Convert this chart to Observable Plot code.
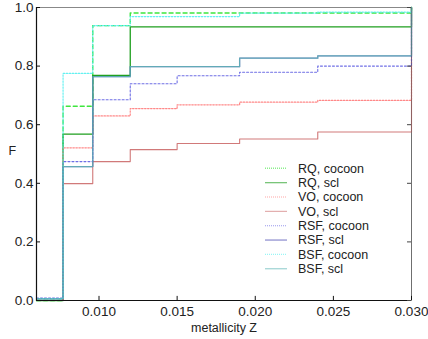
<!DOCTYPE html>
<html><head><meta charset="utf-8">
<script src="https://cdn.jsdelivr.net/npm/d3@7"></script>
<script src="https://cdn.jsdelivr.net/npm/@observablehq/plot@0.6"></script>
<style>
html,body{margin:0;padding:0;background:#fff;}
</style>
</head><body>
<div id="chart"></div>
<script>
// metallicity grid (step edges)
const zGrid = [0.006, 0.0077, 0.0096, 0.012, 0.015, 0.019, 0.024, 0.030];
// cumulative fractions F for each series
const rqCocoon  = [0,     0.663, 0.938, 0.981, 0.981, 0.981, 0.981, 1];
const rqScl     = [0,     0.568, 0.768, 0.934, 0.934, 0.934, 0.934, 1];
const voCocoon  = [0,     0.521, 0.630, 0.655, 0.668, 0.677, 0.683, 1];
const voScl     = [0,     0.399, 0.474, 0.515, 0.536, 0.551, 0.575, 1];
const rsfCocoon = [0.008, 0.474, 0.685, 0.740, 0.767, 0.779, 0.800, 1];
const rsfScl    = [0.006, 0.457, 0.764, 0.798, 0.798, 0.827, 0.835, 1];
const bsfCocoon = [0.006, 0.775, 0.938, 0.969, 0.969, 0.981, 0.984, 1];
const bsfScl    = [0.006, 0.457, 0.764, 0.798, 0.798, 0.827, 0.835, 1];

const seriesNames = ["RQ, cocoon", "RQ, scl", "VO, cocoon", "VO, scl", "RSF, cocoon", "RSF, scl", "BSF, cocoon", "BSF, scl"];
const seriesValues = [rqCocoon, rqScl, voCocoon, voScl, rsfCocoon, rsfScl, bsfCocoon, bsfScl];
const xTicks = [0.010, 0.015, 0.020, 0.025, 0.030];
const yTicks = [0, 0.2, 0.4, 0.6, 0.8, 1.0];

const styles = {
  "RQ, cocoon":  {stroke: "#3ee63e", dash: "4,3", width: 1.4, opacity: 1},
  "RQ, scl":     {stroke: "#1f9f1f", dash: null, width: 1.3, opacity: 1},
  "VO, cocoon":  {stroke: "#ff6a6a", dash: "1.5,1.5", width: 1.2, opacity: 0.8},
  "VO, scl":     {stroke: "#cc6a6a", dash: null, width: 1.1, opacity: 0.9},
  "RSF, cocoon": {stroke: "#5555e0", dash: "2,2", width: 1.1, opacity: 0.85},
  "RSF, scl":    {stroke: "#4a4ab0", dash: null, width: 1.3, opacity: 0.7},
  "BSF, cocoon": {stroke: "#55f0f0", dash: "1.5,1.5", width: 1.2, opacity: 0.9},
  "BSF, scl":    {stroke: "#5ab4b4", dash: null, width: 1.2, opacity: 0.8}
};

const rows = seriesNames.flatMap((name, i) =>
  zGrid.map((z, j) => ({name, z, F: seriesValues[i][j]})));

const lineMarks = seriesNames.map(name => Plot.line(rows.filter(d => d.name === name), {
  x: "z", y: "F", curve: "step-after",
  stroke: styles[name].stroke,
  strokeWidth: styles[name].width,
  strokeDasharray: styles[name].dash,
  strokeOpacity: styles[name].opacity
}));

const plot = Plot.plot({
  width: 428, height: 339,
  marginLeft: 36, marginRight: 17, marginTop: 7, marginBottom: 39,
  style: {fontFamily: "'Liberation Sans', Arial, sans-serif", fontSize: "12px", color: "#222", background: "#fff", overflow: "visible"},
  x: {domain: [0.006, 0.030]},
  y: {domain: [0, 1]},
  marks: [
    Plot.frame({stroke: "#888", strokeWidth: 1}),
    ...lineMarks,
    Plot.ruleX([0.006], {stroke: "#111", strokeWidth: 1.2}),
    Plot.ruleY([0], {stroke: "#111", strokeWidth: 1.2}),
    Plot.ruleX([0.030], {stroke: "#555", strokeWidth: 0.8, strokeOpacity: 0.6}),
    // inward ticks
    Plot.ruleX(xTicks, {y1: 0, y2: 0.014, stroke: "#111"}),
    Plot.ruleY(yTicks, {insetRight: 371, stroke: "#111"}),
    Plot.ruleY(yTicks, {insetLeft: 371, stroke: "#444"}),
    Plot.axisX({ticks: xTicks, tickSize: 0, tickPadding: 6, tickFormat: d3.format(".3f"), label: null, fontSize: 13.5, fill: "#222"}),
    Plot.axisY({ticks: yTicks, tickSize: 0, tickPadding: 3, tickFormat: d3.format(".1f"), label: null, fontSize: 13.5, fill: "#222"}),
    Plot.text(["F"], {frameAnchor: "left", dx: -28, dy: -3, fontSize: 12.5, fill: "#222"}),
    Plot.text(["metallicity Z"], {frameAnchor: "bottom", lineAnchor: "middle", dy: 27, fontSize: 12.5, fill: "#222"})
  ]
});

document.getElementById("chart").appendChild(plot);

// legend inside plot area
const svg = d3.select(plot);
const lg = svg.append("g").attr("font-size", 12.5).attr("text-anchor", "start")
  .attr("font-family", "'Liberation Sans', Arial, sans-serif");
seriesNames.forEach((name, i) => {
  const y = 168.3 + i * 14.35;
  const s = styles[name];
  lg.append("line").attr("x1", 265).attr("x2", 287).attr("y1", y).attr("y2", y)
    .attr("stroke", s.stroke).attr("stroke-width", s.width).attr("stroke-opacity", 0.6)
    .attr("stroke-dasharray", s.dash ? "1,1" : null);
  lg.append("text").attr("x", 298).attr("y", y).attr("dy", "0.35em")
    .attr("text-anchor", "start").attr("fill", "#222").text(name);
});
</script>
</body></html>
